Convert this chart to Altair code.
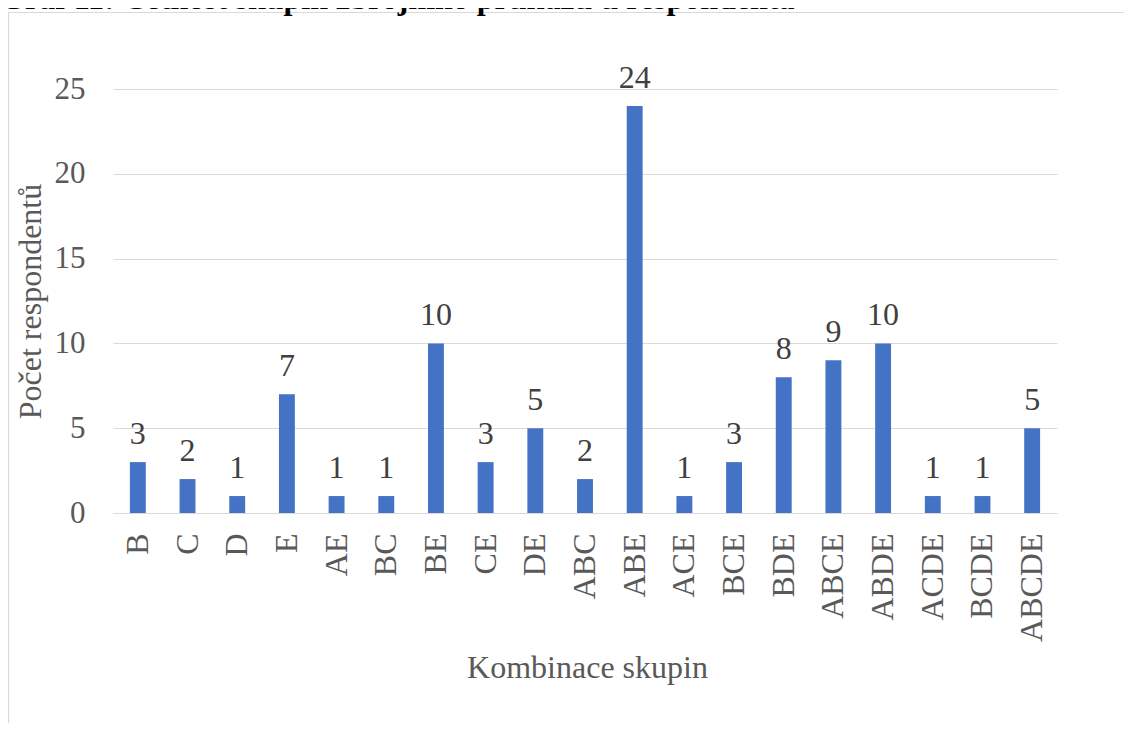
import altair as alt
import pandas as pd

categories = ["B", "C", "D", "E", "AE", "BC", "BE", "CE", "DE", "ABC", "ABE",
              "ACE", "BCE", "BDE", "ABCE", "ABDE", "ACDE", "BCDE", "ABCDE"]
values = [3, 2, 1, 7, 1, 1, 10, 3, 5, 2, 24, 1, 3, 8, 9, 10, 1, 1, 5]
y_ticks = [0, 5, 10, 15, 20, 25]
title_text = "Graf 11: Četnost skupin zbrojního průkazu u respondenta"
x_title = "Kombinace skupin"
y_title = "Počet respondentů"

FONT = "Liberation Serif"
GRAY = "#595959"
GRID = "#D9D9D9"

df = pd.DataFrame({"k": categories, "v": values})
one = pd.DataFrame({"a": [0]})

xenc = alt.X("k:N", sort=None,
             scale=alt.Scale(paddingInner=0.68, paddingOuter=0.34),
             axis=alt.Axis(title=x_title, labelAngle=270, labelPadding=20,
                           ticks=False, domainColor=GRID, domainWidth=1,
                           labelFont=FONT, labelFontSize=32, labelColor=GRAY,
                           titleFont=FONT, titleFontSize=32, titleColor=GRAY,
                           titleFontWeight="normal", titleX=474, titleY=164,
                           titleBaseline="alphabetic", titleAnchor="middle"))
yenc = alt.Y("v:Q",
             scale=alt.Scale(domain=[0, 25], nice=False),
             axis=alt.Axis(title=y_title, values=y_ticks, grid=True, gridColor=GRID,
                           domain=False, ticks=False, labelPadding=28,
                           labelFont=FONT, labelFontSize=31, labelColor=GRAY,
                           titleFont=FONT, titleFontSize=32, titleColor=GRAY,
                           titleFontWeight="normal", titleAngle=270,
                           titleX=-73, titleY=212, titleBaseline="alphabetic",
                           titleAlign="center"))

frame = alt.Chart(one).mark_rect(fillOpacity=0, stroke=GRID, strokeWidth=1.2).encode(
    x=alt.value(-104.5), x2=alt.value(1300), y=alt.value(-76.5), y2=alt.value(900))

title = alt.Chart(one).mark_text(text=title_text, font=FONT, fontSize=32,
                                 fontWeight="bold", color="#000000",
                                 align="left", baseline="alphabetic").encode(
    x=alt.value(-113), y=alt.value(-80))

bars = alt.Chart(df).mark_bar(color="#4472C4").encode(x=xenc, y=yenc)

labels = alt.Chart(df).mark_text(font=FONT, fontSize=32, color="#404040",
                                 baseline="alphabetic", dy=-18).encode(
    x=alt.X("k:N", sort=None), y=alt.Y("v:Q"), text=alt.Text("v:Q"))

chart = alt.layer(frame, bars, labels, title).properties(
    width=944, height=424,
    padding={"left": 105, "top": 81, "right": 67, "bottom": 210},
    autosize=alt.AutoSizeParams(type="none"),
).configure_view(stroke=None)

chart.save("out.html", embed_options={"renderer": "svg", "actions": False})
